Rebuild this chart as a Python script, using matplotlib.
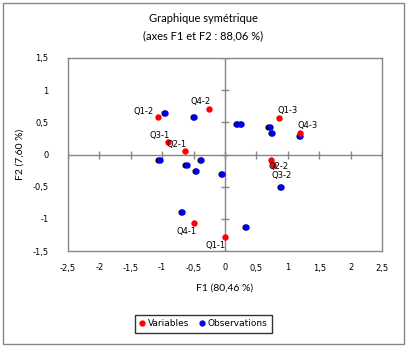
import matplotlib
matplotlib.use('Agg')
import matplotlib.pyplot as plt
import matplotlib.transforms as mtransforms
from matplotlib.patches import Rectangle
from matplotlib.lines import Line2D

# Variables (red points) - coordinates on F1 / F2
var_names = ['Q1-1', 'Q1-2', 'Q1-3', 'Q2-1', 'Q2-2', 'Q3-1', 'Q3-2', 'Q4-1', 'Q4-2', 'Q4-3']
var_f1 = [0.00, -1.07, 0.86, -0.64, 0.73, -0.91, 0.77, -0.49, -0.25, 1.19]
var_f2 = [-1.28, 0.58, 0.56, 0.05, -0.08, 0.20, -0.17, -1.06, 0.70, 0.33]

# Observations (blue points)
obs_f1 = [-0.96, -0.49, 0.19, 0.25, -1.04, -0.61, -0.38, -0.46, -0.05,
          0.71, 0.75, 1.19, 0.89, -0.68, 0.33]
obs_f2 = [0.64, 0.58, 0.48, 0.48, -0.09, -0.16, -0.09, -0.26, -0.31,
          0.42, 0.33, 0.28, -0.51, -0.90, -1.12]

xticks = [-2.5, -2, -1.5, -1, -0.5, 0, 0.5, 1, 1.5, 2, 2.5]
yticks = [-1.5, -1, -0.5, 0, 0.5, 1, 1.5]

# label placement: (ha, va, dx, dy) in pixels
label_pos = {
    'Q1-1': ('right', 'top', 1, -4),
    'Q1-2': ('right', 'bottom', -4, 1),
    'Q1-3': ('left', 'bottom', -2, 3),
    'Q2-1': ('right', 'bottom', 2, 2),
    'Q2-2': ('left', 'top', -2, -2),
    'Q3-1': ('right', 'bottom', 2, 2),
    'Q3-2': ('left', 'top', -2, -6),
    'Q4-1': ('right', 'top', 2, -4),
    'Q4-2': ('right', 'bottom', 1, 3),
    'Q4-3': ('left', 'bottom', -2, 3),
}

def fmt(v):
    return ('%g' % v).replace('.', ',')

fig = plt.figure(figsize=(4.07, 3.47), dpi=100)
ax = fig.add_axes([68 / 407, 1 - 251 / 347, 314 / 407, 193 / 347])

gray = '#868686'
for s in ax.spines.values():
    s.set_color(gray)
    s.set_linewidth(1)

ax.set_xlim(-2.5, 2.5)
ax.set_ylim(-1.5, 1.5)
ax.set_xticks(xticks)
ax.set_yticks(yticks)
ax.set_xticklabels([fmt(v) for v in xticks])
ax.set_yticklabels([fmt(v) for v in yticks])
ax.tick_params(length=0, labelsize=6, pad=9)
ax.tick_params(axis='y', pad=14)

# central axes with tick marks
ax.axhline(0, color=gray, lw=1, zorder=1)
ax.axvline(0, color=gray, lw=1, zorder=1)
ax.plot(xticks, [0] * len(xticks), ls='none', marker='|', ms=6, mew=1, color=gray, zorder=1)
ax.plot([0] * len(yticks), yticks, ls='none', marker='_', ms=6, mew=1, color=gray, zorder=1)

# observations: black label blob under blue dot
off = mtransforms.ScaledTranslation(-1.2 / 100, 0, fig.dpi_scale_trans)
ax.plot(obs_f1, obs_f2, ls='none', marker='o', ms=3.4, color='black',
        transform=ax.transData + off, zorder=3)
ax.plot(obs_f1, obs_f2, ls='none', marker='o', ms=3.6, color='#0000ee', zorder=4)

# variables
ax.plot(var_f1, var_f2, ls='none', marker='o', ms=3.6, color='#ff0000', zorder=5)
for n, x, y in zip(var_names, var_f1, var_f2):
    ha, va, dx, dy = label_pos[n]
    ax.annotate(n, (x, y), xytext=(dx * 0.72, dy * 0.72), textcoords='offset points',
                ha=ha, va=va, fontsize=6, color='black', zorder=6)

ax.set_xlabel('F1 (80,46 %)', fontsize=7.5, family='Lato', labelpad=8)
ax.set_ylabel('F2 (7,60 %)', fontsize=7.5, family='Lato', labelpad=6)

fig.text(0.5, 1 - 18 / 347, 'Graphique symétrique', ha='center', va='center',
         fontsize=8, family='Lato')
fig.text(0.5, 1 - 36 / 347, '(axes F1 et F2 : 88,06 %)', ha='center', va='center',
         fontsize=8, family='Lato')

handles = [Line2D([], [], ls='none', marker='o', ms=3.5, color='#ff0000'),
           Line2D([], [], ls='none', marker='o', ms=3.5, color='#0000ee')]
leg = fig.legend(handles, ['Variables', 'Observations'], loc='center',
                 bbox_to_anchor=(203.5 / 407, 1 - 324 / 347), ncol=2, fontsize=6.5,
                 frameon=True, fancybox=False, edgecolor='black', handlelength=0.6,
                 handletextpad=0.3, columnspacing=1.2, borderpad=0.5)
leg.get_frame().set_linewidth(1)

fig.patches.append(Rectangle((3 / 407, 3 / 347), 401 / 407, 341 / 347, transform=fig.transFigure,
                             fill=False, edgecolor=gray, lw=1))

fig.savefig('out.png', dpi=100)
